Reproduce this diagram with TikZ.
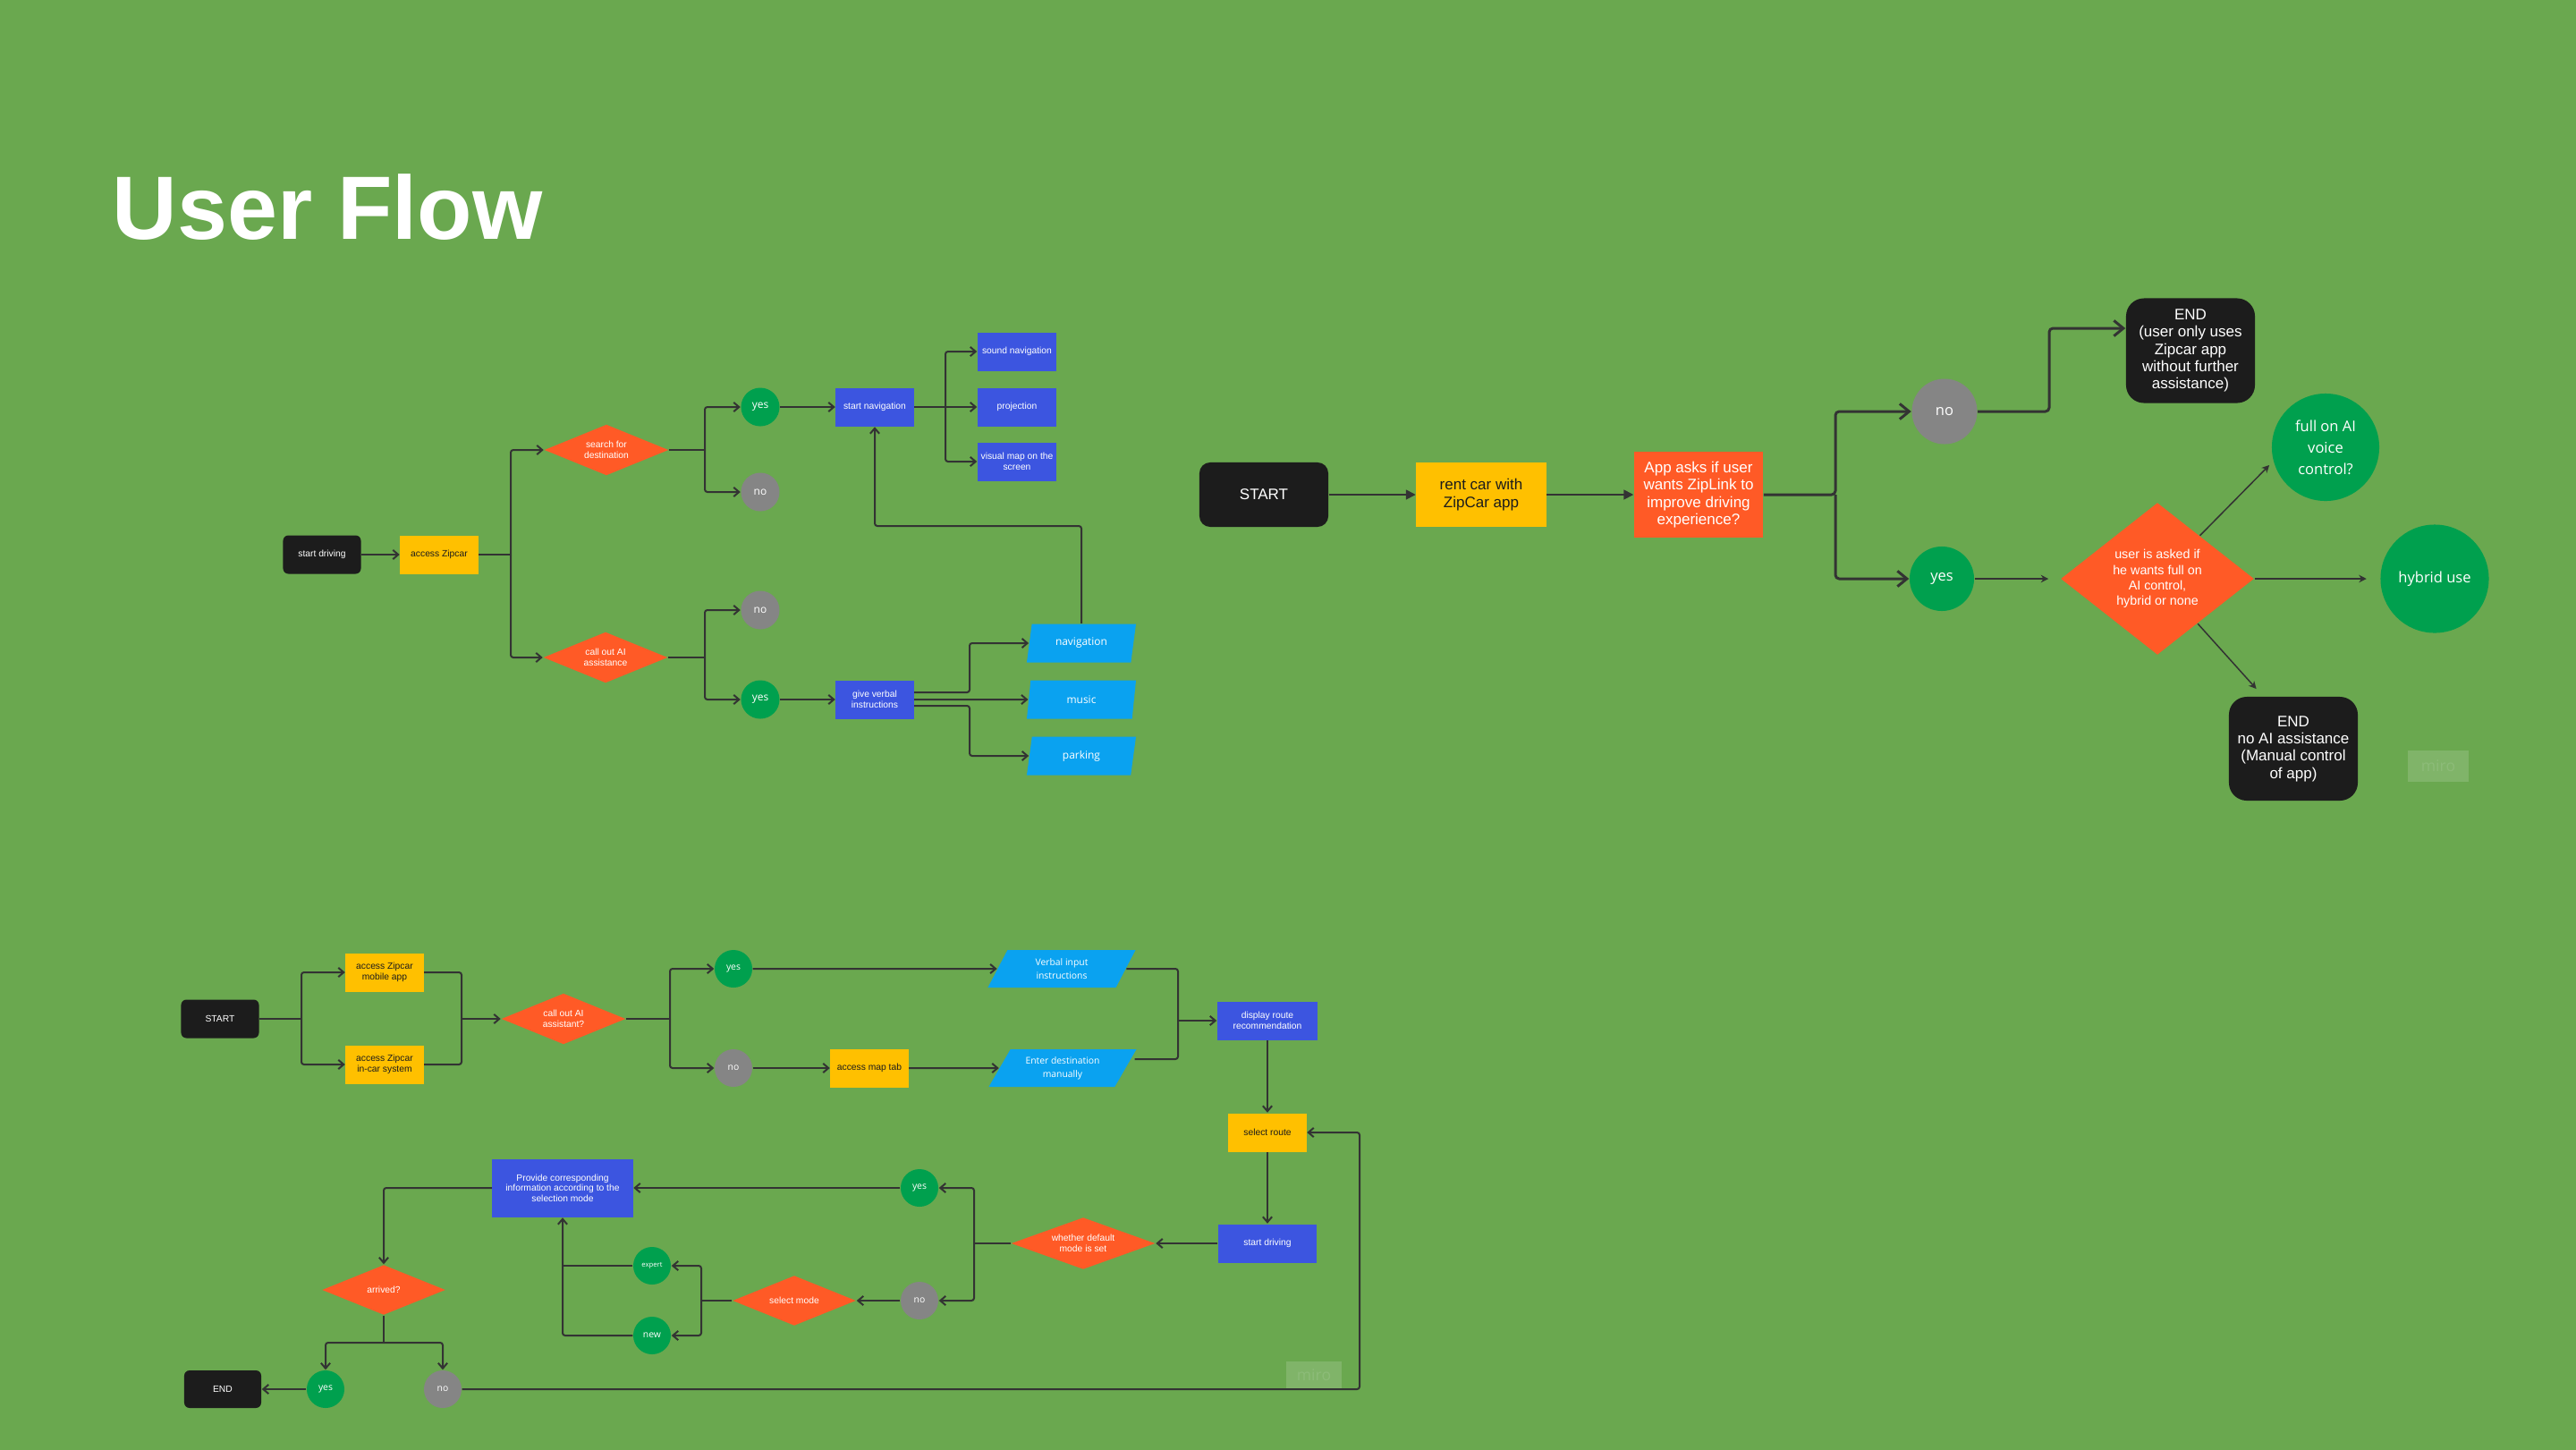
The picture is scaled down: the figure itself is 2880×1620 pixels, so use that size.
\documentclass[tikz,border=0pt]{standalone}
\usepackage{fontspec}
\setmainfont{Liberation Sans}
\newfontfamily\opensans{Open Sans}
\usepackage{tikz}
\usetikzlibrary{arrows.meta,shapes.geometric}

\definecolor{bggreen}{HTML}{6AA84F}
\definecolor{termblack}{HTML}{1C1C1C}
\definecolor{zipyellow}{HTML}{FFC000}
\definecolor{askorange}{HTML}{FF5A26}
\definecolor{actblue}{HTML}{3C55E0}
\definecolor{ioblue}{HTML}{0AA2F0}
\definecolor{yesgreen}{HTML}{00A04E}
\definecolor{nogrey}{HTML}{858585}
\definecolor{linegrey}{HTML}{333333}

\newcommand\fsBox{\fontsize{2.93pt}{3.3pt}\selectfont}
\newcommand\fsIo{\opensans\fontsize{3.4pt}{4pt}\selectfont}
\newcommand\fsIoS{\opensans\fontsize{2.95pt}{4.2pt}\selectfont}
\newcommand\fsBig{\fontsize{4.84pt}{5.5pt}\selectfont}
\newcommand\fsAsk{\fontsize{4.07pt}{4.9pt}\selectfont}
\newcommand\fsOpt{\opensans\fontsize{4.7pt}{6.8pt}\selectfont}

\begin{document}
\begin{tikzpicture}[
  x=0.01cm, y=-0.01cm,
  base/.style={inner sep=0pt, align=center, text=white},
  term/.style={base, fill=termblack, rounded corners=0.06cm, minimum width=0.87cm, minimum height=0.43cm, font=\fsBox},
  yel/.style={base, fill=zipyellow, text=termblack, minimum width=0.87cm, minimum height=0.43cm, font=\fsBox},
  act/.style={base, fill=actblue, minimum width=0.87cm, minimum height=0.43cm, font=\fsBox},
  dec/.style={base, diamond, aspect=2.4, fill=askorange, minimum width=1.39cm, minimum height=0.57cm, font=\fsBox},
  yesc/.style={base, circle, fill=yesgreen, minimum size=0.43cm, font=\fsIo},
  noc/.style={base, circle, fill=nogrey, minimum size=0.43cm, font=\fsIo},
  io/.style={base, trapezium, trapezium left angle=64, trapezium right angle=116, trapezium stretches body, fill=ioblue, minimum width=1.22cm, minimum height=0.43cm, font=\fsIo},
  io3/.style={io, trapezium left angle=46, trapezium right angle=134, minimum width=1.65cm, minimum height=0.42cm, font=\fsIoS},
  yesc3/.style={yesc, minimum size=0.42cm, font=\fsIoS},
  noc3/.style={noc, minimum size=0.42cm, font=\fsIoS},
  bigterm/.style={base, fill=termblack, rounded corners=0.12cm, minimum width=1.44cm, minimum height=0.72cm, font=\fsBig},
  bigend/.style={bigterm, rounded corners=0.2cm, minimum height=1.17cm},
  bigbox/.style={base, minimum width=1.45cm, minimum height=0.72cm, font=\fsBig},
  bigdec/.style={base, diamond, aspect=1.27, fill=askorange, minimum width=2.16cm, minimum height=1.7cm, font=\fsAsk},
  bigc/.style={base, circle, minimum size=0.73cm, font=\fsOpt},
  wmark/.style={fill=white, fill opacity=0.15, text=white, text opacity=0.1, inner sep=0pt, font=\opensans\fontsize{5pt}{5pt}\selectfont},
  ln/.style={draw=linegrey, line width=0.57pt, rounded corners=0.8pt},
  arr/.style={ln, -{Straight Barb[length=1.7pt, width=2.9pt]}},
  thickarr/.style={draw=linegrey, line width=0.85pt, rounded corners=1.2pt, -{Straight Barb[length=3pt, width=4.9pt]}},
  tri/.style={draw=linegrey, line width=0.5pt, -{Triangle[length=3.1pt, width=3.1pt]}},
  thinarr/.style={draw=linegrey, line width=0.43pt, -{Stealth[length=2.4pt, width=2.4pt]}}
]
\useasboundingbox (0,0) rectangle (2880,1620);
\fill[bggreen] (-10,-10) rectangle (2890,1630);

\node[anchor=base west, inner sep=0pt, text=white, font=\fontsize{28.6pt}{30pt}\selectfont\bfseries] (title) at (125,267) {User Flow};

\node[term] (drive1) at (360,620) {start driving};
\node[yel] (zip1) at (491,620) {access Zipcar};
\node[dec] (search) at (678,503) {search for\\destination};
\node[dec] (callai) at (677,735) {call out AI\\assistance};
\node[yesc] (yes1) at (850,455) {yes};
\node[noc] (no1) at (850,550) {no};
\node[noc] (no2) at (850,682) {no};
\node[yesc] (yes2) at (850,782) {yes};
\node[act] (startnav) at (978,455) {start navigation};
\node[act, minimum width=0.88cm] (soundnav) at (1137,393) {sound navigation};
\node[act, minimum width=0.88cm] (proj) at (1137,455) {projection};
\node[act, minimum width=0.88cm] (vismap) at (1137,516) {visual map on the\\screen};
\node[act] (verbal) at (978,782) {give verbal\\instructions};
\node[io] (navi) at (1209,719) {navigation};
\node[io] (music) at (1209,782) {music};
\node[io] (parking) at (1209,845) {parking};

\coordinate (b1) at (571,620);
\coordinate (b2) at (788,503);
\coordinate (b3) at (788,735);
\coordinate (b4) at (1057,455);
\coordinate (v1) at (1084,774);
\coordinate (v3) at (1084,789);
\coordinate (navup) at (1100,588);
\draw[arr] (drive1) -- (zip1);
\draw[ln] (zip1) -- (b1);
\draw[arr] (b1) |- (search);
\draw[arr] (b1) |- (callai);
\draw[ln] (search) -- (b2);
\draw[arr] (b2) |- (yes1);
\draw[arr] (b2) |- (no1);
\draw[ln] (callai) -- (b3);
\draw[arr] (b3) |- (no2);
\draw[arr] (b3) |- (yes2);
\draw[arr] (yes1) -- (startnav);
\draw[ln] (startnav) -- (b4);
\draw[arr] (b4) |- (soundnav);
\draw[arr] (b4) -- (proj);
\draw[arr] (b4) |- (vismap);
\draw[arr] (yes2) -- (verbal);
\draw[arr] ([yshift=0.08cm]verbal.east) -- (v1) |- (navi);
\draw[arr] (verbal) -- (music);
\draw[arr] ([yshift=-0.07cm]verbal.east) -- (v3) |- (parking);
\draw[arr] (navi) |- (navup) -| (startnav);

\node[bigterm] (start2) at (1413,553) {START};
\node[bigbox, fill=zipyellow, text=termblack] (rent) at (1656,553) {rent car with\\ZipCar app};
\node[bigbox, fill=askorange, minimum width=1.44cm, minimum height=0.95cm] (ask) at (1899,553) {App asks if user\\wants ZipLink to\\improve driving\\experience?};
\node[bigc, fill=nogrey] (no3) at (2174,460) {no};
\node[bigc, fill=yesgreen, minimum size=0.72cm] (yes3) at (2171,647) {yes};
\node[bigend] (end1) at (2449,392) {END\\(user only uses\\Zipcar app\\without further\\assistance)};
\node[bigdec] (level) at (2412,647) {user is asked if\\he wants full on\\AI control,\\hybrid or none};
\node[bigc, fill=yesgreen, minimum size=1.2cm] (fullai) at (2600,500) {full on AI\\voice\\control?};
\node[bigc, fill=yesgreen, minimum size=1.21cm] (hybrid) at (2722,647) {hybrid use};
\node[bigend, minimum height=1.16cm] (end2) at (2564,837) {END\\no AI assistance\\(Manual control\\of app)};
\node[wmark, minimum width=0.68cm, minimum height=0.35cm] (wm1) at (2726,856) {miro};

\coordinate (b6) at (2052,553);
\coordinate (n3) at (2291,367);
\draw[tri] (start2) -- (rent);
\draw[tri] (rent) -- (ask);
\draw[thickarr] (ask) -- (b6) |- (no3);
\draw[thickarr] (b6) |- (yes3);
\draw[thickarr] (no3.east) -| (n3) -- (n3 -| end1.west);
\draw[thinarr, shorten >=0.13cm] (yes3) -- (level);
\draw[thinarr, shorten >=0.06cm] (level) -- (fullai.195);
\draw[thinarr, shorten >=0.15cm] (level) -- (hybrid);
\draw[thinarr, shorten >=0.11cm] (level) -- ([xshift=-0.34cm]end2.north);

\node[term] (start3) at (246,1139) {START};
\node[yel] (mobile) at (430,1087) {access Zipcar\\mobile app};
\node[yel] (incar) at (430,1190) {access Zipcar\\in-car system};
\node[dec] (callai3) at (630,1139) {call out AI\\assistant?};
\node[yesc3] (yes4) at (820,1083) {yes};
\node[noc3] (no4) at (820,1194) {no};
\node[yel] (maptab) at (972,1194) {access map tab};
\node[io3] (vinput) at (1187,1083) {Verbal input\\instructions};
\node[io3] (manual) at (1188,1194) {Enter destination\\manually};
\node[act, minimum width=1.12cm] (route) at (1417,1141) {display route\\recommendation};
\node[yel] (select) at (1417,1266) {select route};
\node[act, minimum width=1.1cm] (drive3) at (1417,1390) {start driving};
\node[dec, aspect=2.78, minimum width=1.61cm, minimum height=0.58cm] (default) at (1211,1390) {whether default\\mode is set};
\node[yesc3] (yes5) at (1028,1328) {yes};
\node[noc3] (no5) at (1028,1454) {no};
\node[dec, minimum width=1.38cm, minimum height=0.56cm] (mode) at (888,1454) {select mode};
\node[yesc3, font=\opensans\fontsize{2.2pt}{2.6pt}\selectfont] (expert) at (729,1415) {expert};
\node[yesc3] (new) at (729,1493) {new};
\node[act, minimum width=1.57cm, minimum height=0.65cm] (provide) at (629,1328) {Provide corresponding\\information according to the\\selection mode};
\node[dec, minimum width=1.38cm, minimum height=0.56cm] (arrived) at (429,1442) {arrived?};
\node[yesc3] (yes6) at (364,1553) {yes};
\node[noc3] (no6) at (495,1553) {no};
\node[term, minimum width=0.86cm, minimum height=0.42cm] (end3) at (249,1553) {END};
\node[wmark, minimum width=0.62cm, minimum height=0.31cm] (wm2) at (1469,1537) {miro};

\coordinate (b7) at (337,1139);
\coordinate (b8) at (516,1139);
\coordinate (b9) at (749,1139);
\coordinate (b10) at (1317,1141);
\coordinate (b11) at (1089,1390);
\coordinate (b12) at (784,1454);
\coordinate (b13) at (429,1501);
\coordinate (b14) at (1520,1553);
\draw[ln] (start3) -- (b7);
\draw[arr] (b7) |- (mobile);
\draw[arr] (b7) |- (incar);
\draw[ln] (mobile) -| (b8);
\draw[ln] (incar) -| (b8);
\draw[arr] (b8) -- (callai3);
\draw[ln] (callai3) -- (b9);
\draw[arr] (b9) |- (yes4);
\draw[arr] (b9) |- (no4);
\draw[arr] (yes4) -- (vinput);
\draw[arr] (no4) -- (maptab);
\draw[arr] (maptab) -- (manual);
\draw[ln] (vinput) -| (b10);
\draw[ln] ([shift={(0.095cm,0.1cm)}]manual.east) -| (b10);
\draw[arr] (b10) -- (route);
\draw[arr] (route) -- (select);
\draw[arr] (select) -- (drive3);
\draw[arr] (drive3) -- (default);
\draw[ln] (default) -- (b11);
\draw[arr] (b11) |- (yes5);
\draw[arr] (b11) |- (no5);
\draw[arr] (yes5) -- (provide);
\draw[arr] (no5) -- (mode);
\draw[ln] (mode) -- (b12);
\draw[arr] (b12) |- (expert);
\draw[arr] (b12) |- (new);
\draw[ln] (expert) -- (expert -| provide);
\draw[arr] (new) -| (provide);
\draw[arr] (provide) -| (arrived);
\draw[ln] (arrived) -- (b13);
\draw[arr] (b13) -| (yes6);
\draw[arr] (b13) -| (no6);
\draw[arr] (yes6) -- (end3);
\draw[arr] (no6) -- (b14) |- (select);
\end{tikzpicture}
\end{document}
